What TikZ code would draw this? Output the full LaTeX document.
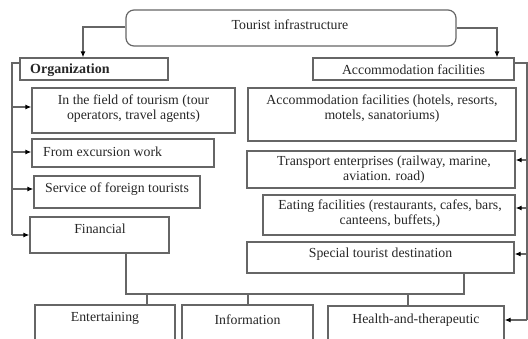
\documentclass[tikz,border=0pt]{standalone}
\usepackage{fontspec}
\setmainfont{Liberation Serif}
\usetikzlibrary{arrows.meta}
\begin{document}
\begin{tikzpicture}[x=1pt,y=-1pt,
  box/.style={draw=black!60, line width=1.2pt, inner sep=0pt},
  txt/.style={inner sep=0pt, align=center, text=black!85, font=\fontsize{13.8}{15}\selectfont},
  link/.style={draw=black!60, line width=1.2pt},
  arr/.style={link, -{Latex[length=6pt,width=5pt,color=black]}}]
\useasboundingbox (0,0) rectangle (528,338);
\clip (0,0) rectangle (528,338);

% root
\node[box, rounded corners=8pt, minimum width=330pt, minimum height=36pt] (root) at (291,28) {};
\node[txt] (troot) at (290,25) {Tourist infrastructure};

% left branch
\node[box, minimum width=148pt, minimum height=22pt] (org) at (94,69) {};
\node[txt, anchor=west, font=\fontsize{14}{16}\selectfont\bfseries] (torg) at (30,70) {Organization};
\node[box, minimum width=203pt, minimum height=45pt] (field) at (133.5,110.5) {};
\node[txt] (tfield) at (133.5,108.5) {In the field of tourism (tour\\operators, travel agents)};
\node[box, minimum width=182pt, minimum height=28pt] (exc) at (123,153) {};
\node[txt, anchor=west] (texc) at (43,152) {From excursion work};
\node[box, minimum width=166pt, minimum height=32pt] (serv) at (117,192) {};
\node[txt] (tserv) at (117,189) {Service of foreign tourists};
\node[box, minimum width=139pt, minimum height=36pt] (fin) at (99.5,235) {};
\node[txt] (tfin) at (100,229) {Financial};

% right branch
\node[box, minimum width=201pt, minimum height=22pt] (acc) at (413.5,69) {};
\node[txt] (tacc) at (413.5,70) {Accommodation facilities};
\node[box, minimum width=268pt, minimum height=53pt] (hot) at (382,114.5) {};
\node[txt] (thot) at (382,108.5) {Accommodation facilities (hotels, resorts,\\motels, sanatoriums)};
\node[box, minimum width=268pt, minimum height=37pt] (trn) at (381,169.5) {};
\node[txt] (ttrn) at (384,170) {Transport enterprises (railway, marine,\\aviation. road)};
\node[box, minimum width=252pt, minimum height=40pt] (eat) at (389,215) {};
\node[txt] (teat) at (390,213.5) {Eating facilities (restaurants, cafes, bars,\\canteens, buffets,)};
\node[box, minimum width=267pt, minimum height=31pt] (spec) at (380.5,257.5) {};
\node[txt] (tspec) at (380.5,254) {Special tourist destination};

% bottom row
\node[box, minimum width=140pt, minimum height=55pt] (ent) at (105,332.5) {};
\node[txt] (tent) at (105,318) {Entertaining};
\node[box, minimum width=131pt, minimum height=55pt] (inf) at (247.5,332.5) {};
\node[txt] (tinf) at (247.5,320) {Information};
\node[box, minimum width=176pt, minimum height=54pt] (hlth) at (416,333) {};
\node[txt] (thlth) at (416,320) {Health-and-therapeutic};

% root to the two headings
\draw[arr] (root.west |- 0,27) -| (org.north -| 83,0);
\draw[arr] (root.east |- 0,28) -| (acc.north -| 497,0);

% left bus
\coordinate (lbus) at (12,63);
\draw[link] (org.west |- lbus) -- (lbus) -- (12,235);
\draw[arr] (12,107) -- (field.west |- 0,107);
\draw[arr] (12,152) -- (exc.west |- 0,152);
\draw[arr] (12,189) -- (serv.west |- 0,189);
\draw[arr] (12,235) -- (fin.west |- 0,235);

% right bus
\coordinate (rbus) at (527,63);
\draw[link] (acc.east |- rbus) -- (rbus) -- (527,320);
\draw[arr] (527,160) -- (trn.east |- 0,160);
\draw[arr] (527,208) -- (eat.east |- 0,208);
\draw[arr] (527,254) -- (spec.east |- 0,254);
\draw[arr] (527,320) -- (hlth.east |- 0,320);

% bracket joining the lower boxes
\coordinate (bl) at (126,294);
\coordinate (br) at (464,294);
\draw[link] (fin.south -| bl) -- (bl) -- (br) -- (spec.south -| br);
\draw[link] (147,294) -- (ent.north -| 147,0);
\draw[link] (248,294) -- (inf.north -| 248,0);
\draw[link] (408,294) -- (hlth.north -| 408,0);
\end{tikzpicture}
\end{document}
